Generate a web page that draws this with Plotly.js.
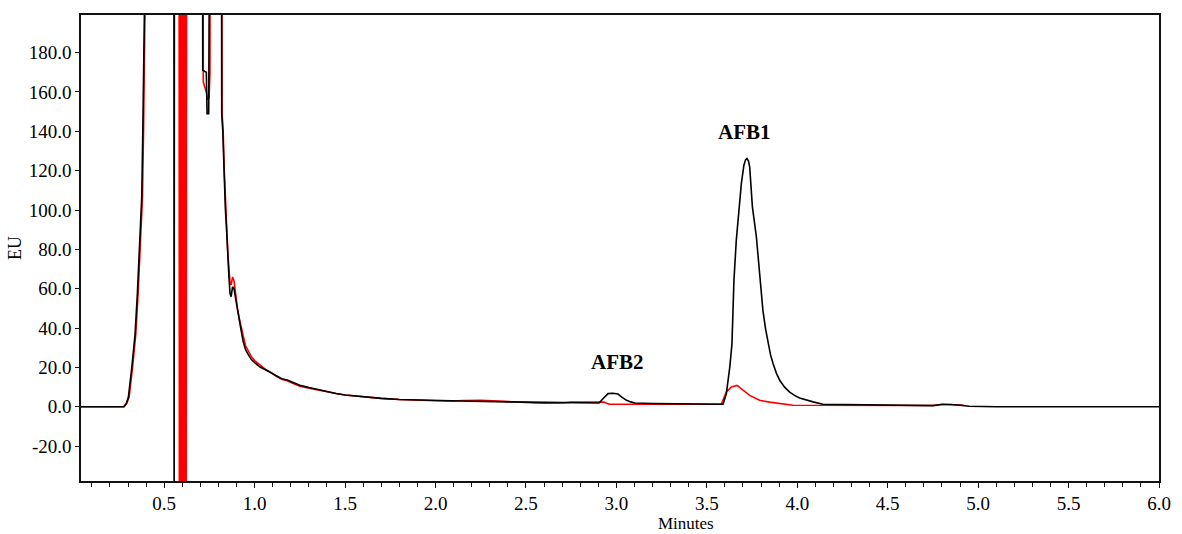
<!DOCTYPE html>
<html>
<head>
<meta charset="utf-8">
<script src="https://cdn.plot.ly/plotly-3.0.1.min.js"></script>
<style>html,body{margin:0;padding:0;background:#fff;}#chart{width:1182px;height:534px;}</style>
</head>
<body>
<div id="chart"></div>
<script>
// Off-scale excursions are recorded as values beyond the plotted EU range.
var blackTime = [0.04,0.275,0.290,0.302,0.321,0.339,0.352,0.367,0.376,0.382,0.394,0.404,0.42,
  0.553,0.555,0.557,0.711,0.713,0.733,0.737,0.746,0.758,0.815,0.818,0.824,0.830,0.838,0.846,0.852,0.858,
  0.864,0.870,0.878,0.886,0.895,0.905,0.915,0.925,0.937,0.950,0.965,0.982,1.00,1.03,1.06,1.09,1.12,1.15,
  1.18,1.21,1.25,1.30,1.35,1.40,1.45,1.50,1.60,1.70,1.80,1.90,2.00,2.20,2.40,2.60,2.80,2.904,2.927,2.954,
  2.980,3.009,3.028,3.056,3.080,3.102,3.20,3.40,3.55,3.590,3.608,3.627,3.639,3.650,3.663,3.678,3.691,3.705,
  3.714,3.722,3.730,3.737,3.745,3.752,3.763,3.774,3.783,3.792,3.801,3.810,3.824,3.838,3.852,3.866,3.885,
  3.903,3.930,3.958,3.985,4.013,4.050,4.087,4.142,4.30,4.465,4.60,4.75,4.80,4.85,4.90,4.95,5.10,6.00];
var blackEU = [0,0,1.5,5,20,37,58,85,107,142,191,260,400,
  400,-100,400,400,171,170,149,149,400,400,149,140,120,101,88,74,66,
  57.5,56,61,60,55,49,45,39,33,29,26.5,24,22.5,20.2,18.8,17.3,15.8,14.3,
  13.6,12.4,11,9.8,8.8,7.6,6.8,6.0,5.0,4.3,3.7,3.4,3.2,2.8,2.5,2.2,2.0,1.9,4.2,6.7,
  6.9,6.5,5.0,3.3,2.5,1.9,1.7,1.5,1.3,1.3,6.7,20.2,32,64.3,84.7,101.6,113.5,122.8,
  125.5,126.2,125,121.9,113,101.6,94,86.3,77,67.7,58,49.1,40,32.1,26.5,22,17,
  13.5,10,7.5,5.8,4.5,3.4,2.5,1.3,1.1,1.0,0.6,0.6,1.2,1.2,0.8,0.3,0,0];

var redTime = [0.04,0.279,0.294,0.306,0.325,0.343,0.356,0.371,0.380,0.386,0.398,0.408,0.42,0.582,
  0.5840,0.5877,0.5914,0.5951,0.5988,0.6025,0.6062,0.6099,0.6136,0.6173,0.6210,
  0.625,0.714,0.716,0.733,0.740,0.748,0.753,0.756,0.817,0.820,0.826,0.832,0.840,0.846,0.852,0.858,0.864,
  0.870,0.878,0.886,0.895,0.905,0.915,0.925,0.937,0.950,0.965,0.982,1.00,1.03,1.06,1.09,1.12,1.15,1.18,
  1.21,1.25,1.30,1.35,1.40,1.45,1.50,1.60,1.70,1.80,1.90,2.00,2.10,2.15,2.25,2.35,2.42,2.55,2.60,2.70,
  2.75,2.85,2.93,2.96,3.10,3.20,3.40,3.580,3.608,3.636,3.667,3.700,3.737,3.792,3.847,3.976,4.465,4.60,
  4.75,4.80,4.85,4.92];
var redEU = [0,0,2,5,20,37,58,85,107,142,191,260,400,400,
  -100,400,-100,400,-100,400,-100,400,-100,400,-100,
  400,400,165,160,156,157,170,400,400,149,140,120,101,90,78,70,63,
  62,66,64,57,50,45,40,36,31,28,25.5,23.5,21,19,17.5,15.5,14,13.2,
  12,10.5,9.5,8.5,7.5,6.8,6.0,5.0,4.3,3.7,3.3,3.1,2.9,3.2,3.3,3.1,2.6,2.0,1.8,1.9,
  2.4,2.4,2.4,1.3,1.3,1.6,1.4,1.3,7.5,10.1,10.9,8.4,5.8,3.3,2.4,0.8,0.8,0.6,
  0.7,1.3,1.2,0.8];

var peakNames = ['AFB2','AFB1'];
var peakLabelTime = [3.008,3.709];
var peakLabelEU = [22.8,139.7];

var yTickVals = [-20,0,20,40,60,80,100,120,140,160,180];
var yTickText = ['-20.0','0.0','20.0','40.0','60.0','80.0','100.0','120.0','140.0','160.0','180.0'];
var xTickVals = [0.5,1.0,1.5,2.0,2.5,3.0,3.5,4.0,4.5,5.0,5.5,6.0];
var xTickText = ['0.5','1.0','1.5','2.0','2.5','3.0','3.5','4.0','4.5','5.0','5.5','6.0'];

var serif = 'Liberation Serif, Times New Roman, serif';

var traces = [
  {x: redTime, y: redEU, type: 'scatter', mode: 'lines', name: 'red', line: {color: '#ff0000', width: 1.6}, hoverinfo: 'x+y'},
  {x: blackTime, y: blackEU, type: 'scatter', mode: 'lines', name: 'black', line: {color: '#000000', width: 1.6}, hoverinfo: 'x+y'}
];

var annotations = peakNames.map(function(n, i){
  return {x: peakLabelTime[i], y: peakLabelEU[i], xref: 'x', yref: 'y', text: '<b>' + n + '</b>',
    showarrow: false, xanchor: 'center', yanchor: 'middle', font: {family: serif, size: 21, color: '#000'}};
});
annotations.push({x: 0.561, y: 0, xref: 'paper', yref: 'paper', yshift: -42, text: 'Minutes',
  showarrow: false, xanchor: 'center', yanchor: 'middle', font: {family: serif, size: 17, color: '#000'}});

var layout = {
  width: 1182, height: 534,
  margin: {l: 81, r: 23, t: 15, b: 53, pad: 0},
  paper_bgcolor: '#fff', plot_bgcolor: '#fff',
  showlegend: false,
  font: {family: serif, size: 19, color: '#000'},
  xaxis: {
    range: [0.04, 6.0], showgrid: false, zeroline: false,
    showline: true, mirror: true, linecolor: '#111', linewidth: 1.6,
    tickmode: 'array', tickvals: xTickVals, ticktext: xTickText,
    ticks: 'outside', ticklen: 5, tickcolor: '#111', tickwidth: 1,
    tickfont: {family: serif, size: 19, color: '#000'},
    minor: {tickmode: 'linear', tick0: 0, dtick: 0.1, ticks: 'outside', ticklen: 4, tickcolor: '#111', showgrid: false}
  },
  yaxis: {
    range: [-37.7, 199.1], showgrid: false, zeroline: false,
    showline: true, mirror: true, linecolor: '#111', linewidth: 1.6,
    tickmode: 'array', tickvals: yTickVals, ticktext: yTickText,
    ticks: 'outside', ticklen: 4, tickcolor: '#111', tickwidth: 1,
    tickfont: {family: serif, size: 19, color: '#000'},
    title: {text: 'EU', font: {family: serif, size: 18, color: '#000'}, standoff: 2}
  },
  annotations: annotations
};

Plotly.newPlot('chart', traces, layout, {displayModeBar: false, staticPlot: true});
</script>
</body>
</html>
